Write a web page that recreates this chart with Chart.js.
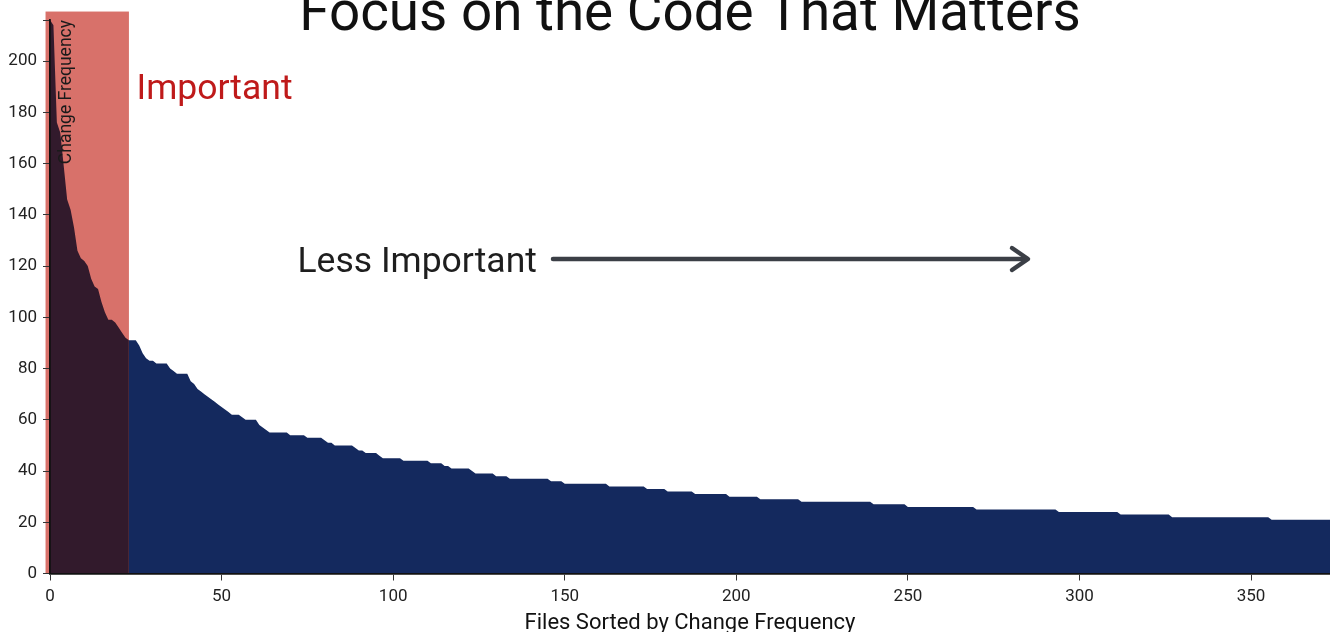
<!DOCTYPE html>
<html>
<head>
<meta charset="utf-8">
<script src="https://cdn.jsdelivr.net/npm/chart.js@4.4.0/dist/chart.umd.min.js"></script>
<style>
  html, body { margin: 0; padding: 0; background: #fff; overflow: hidden; }
  canvas { display: block; }
</style>
</head>
<body>
<canvas id="chart" width="1330" height="632"></canvas>
<script>
// Change count per file, files sorted from most to least frequently changed
const changeFrequency = [
  216, 214, 176, 172, 159, 146, 142, 135, 126, 123,
  122, 120, 115, 112, 111, 106, 102, 99, 99, 98,
  96, 94, 92, 91, 91, 91, 89, 86, 84, 83,
  83, 82, 82, 82, 82, 80, 79, 78, 78, 78,
  78, 75, 74, 72, 71, 70, 69, 68, 67, 66,
  65, 64, 63, 62, 62, 62, 61, 60, 60, 60,
  60, 58, 57, 56, 55, 55, 55, 55, 55, 55,
  54, 54, 54, 54, 54, 53, 53, 53, 53, 53,
  52, 51, 51, 50, 50, 50, 50, 50, 50, 49,
  48, 48, 47, 47, 47, 47, 46, 45, 45, 45,
  45, 45, 45, 44, 44, 44, 44, 44, 44, 44,
  44, 43, 43, 43, 43, 42, 42, 41, 41, 41,
  41, 41, 41, 40, 39, 39, 39, 39, 39, 39,
  38, 38, 38, 38, 37, 37, 37, 37, 37, 37,
  37, 37, 37, 37, 37, 37, 36, 36, 36, 36,
  35, 35, 35, 35, 35, 35, 35, 35, 35, 35,
  35, 35, 35, 34, 34, 34, 34, 34, 34, 34,
  34, 34, 34, 34, 33, 33, 33, 33, 33, 33,
  32, 32, 32, 32, 32, 32, 32, 32, 31, 31,
  31, 31, 31, 31, 31, 31, 31, 31, 30, 30,
  30, 30, 30, 30, 30, 30, 30, 29, 29, 29,
  29, 29, 29, 29, 29, 29, 29, 29, 29, 28,
  28, 28, 28, 28, 28, 28, 28, 28, 28, 28,
  28, 28, 28, 28, 28, 28, 28, 28, 28, 28,
  27, 27, 27, 27, 27, 27, 27, 27, 27, 27,
  26, 26, 26, 26, 26, 26, 26, 26, 26, 26,
  26, 26, 26, 26, 26, 26, 26, 26, 26, 26,
  25, 25, 25, 25, 25, 25, 25, 25, 25, 25,
  25, 25, 25, 25, 25, 25, 25, 25, 25, 25,
  25, 25, 25, 25, 24, 24, 24, 24, 24, 24,
  24, 24, 24, 24, 24, 24, 24, 24, 24, 24,
  24, 24, 23, 23, 23, 23, 23, 23, 23, 23,
  23, 23, 23, 23, 23, 23, 23, 22, 22, 22,
  22, 22, 22, 22, 22, 22, 22, 22, 22, 22,
  22, 22, 22, 22, 22, 22, 22, 22, 22, 22,
  22, 22, 22, 22, 22, 22, 21, 21, 21, 21,
  21, 21, 21, 21, 21, 21, 21, 21, 21, 21,
  21, 21, 21, 21
];

// The first files (index 0..23) are the hotspots worth focusing on
const importantLastFile = 23;

const xTickValues = [0, 50, 100, 150, 200, 250, 300, 350];
const yTickValues = [0, 20, 40, 60, 80, 100, 120, 140, 160, 180, 200];

const xMax = changeFrequency.length - 1;
const yMax = Math.max(...changeFrequency);

const COLORS = {
  highlight: '#d8716a',
  hotspotArea: '#321a2c',
  restArea: '#14295e',
  axis: '#111111',
  tickText: '#222222',
  importantText: '#bf1a1a',
  lessText: '#1e1e1e',
  arrow: '#3b3f46'
};

Chart.defaults.font.family = 'Roboto, "Noto Sans", sans-serif';

const points = changeFrequency.map((v, i) => ({ x: i, y: v }));
const hotspotPoints = points.slice(0, importantLastFile + 1);
const restPoints = points.slice(importantLastFile);

// Salmon band behind the hotspot files
const highlightBand = {
  id: 'highlightBand',
  beforeDatasetsDraw(chart) {
    const { ctx, scales: { x, y } } = chart;
    const left = x.getPixelForValue(-1.3);
    const right = x.getPixelForValue(importantLastFile);
    const top = y.getPixelForValue(yMax + 3.3);
    const bottom = y.getPixelForValue(0);
    ctx.save();
    ctx.fillStyle = COLORS.highlight;
    ctx.fillRect(left, top, right - left, bottom - top);
    ctx.restore();
  }
};

// Title, annotations and axis titles
const annotations = {
  id: 'annotations',
  afterDraw(chart) {
    const { ctx } = chart;
    ctx.save();

    ctx.fillStyle = '#111';
    ctx.font = '54.8px Roboto';
    ctx.textAlign = 'center';
    ctx.textBaseline = 'alphabetic';
    ctx.fillText('Focus on the Code That Matters', 690, 30);

    ctx.font = '22px Roboto';
    ctx.fillStyle = '#111';
    ctx.fillText('Files Sorted by Change Frequency', 690, 629);

    ctx.save();
    ctx.translate(66.5, 20);
    ctx.rotate(-Math.PI / 2);
    ctx.textAlign = 'right';
    ctx.textBaseline = 'middle';
    ctx.font = '17.5px Roboto';
    ctx.fillStyle = '#1a1a1a';
    ctx.fillText('Change Frequency', 0, 0);
    ctx.restore();

    ctx.textAlign = 'left';
    ctx.font = '35.5px Roboto';
    ctx.fillStyle = COLORS.importantText;
    ctx.fillText('Important', 136.5, 99);

    ctx.fillStyle = COLORS.lessText;
    ctx.fillText('Less Important', 297.5, 272);

    ctx.strokeStyle = COLORS.arrow;
    ctx.lineWidth = 4.5;
    ctx.lineCap = 'round';
    ctx.lineJoin = 'round';
    ctx.beginPath();
    ctx.moveTo(553, 259);
    ctx.lineTo(1027, 259);
    ctx.stroke();
    ctx.beginPath();
    ctx.moveTo(1012, 248);
    ctx.lineTo(1028, 259);
    ctx.lineTo(1012, 270);
    ctx.stroke();

    ctx.restore();
  }
};

const axisCommon = {
  grid: { display: true, drawOnChartArea: false, drawTicks: true, tickLength: 7, color: '#333', lineWidth: 1, z: 1 },
  border: { display: true, color: COLORS.axis, width: 1.8, z: 1 }
};

new Chart(document.getElementById('chart'), {
  type: 'line',
  data: {
    datasets: [
      {
        data: hotspotPoints,
        backgroundColor: COLORS.hotspotArea,
        borderWidth: 0,
        pointRadius: 0,
        fill: 'origin',
        tension: 0
      },
      {
        data: restPoints,
        backgroundColor: COLORS.restArea,
        borderWidth: 0,
        pointRadius: 0,
        fill: 'origin',
        tension: 0
      }
    ]
  },
  options: {
    responsive: false,
    animation: false,
    events: [],
    layout: { autoPadding: false, padding: { top: 20, right: -1.3, left: 0, bottom: 0 } },
    plugins: { legend: { display: false }, tooltip: { enabled: false }, title: { display: false } },
    scales: {
      x: {
        type: 'linear',
        min: 0,
        max: xMax,
        ...axisCommon,
        afterFit(scale) {
          scale.height = 58.5;
          scale.paddingLeft = 0;
          scale.paddingRight = 0;
        },
        afterBuildTicks(scale) {
          scale.ticks = xTickValues.map(v => ({ value: v })).concat([{ value: xMax }]);
        },
        ticks: {
          autoSkip: false,
          maxRotation: 0,
          padding: 6,
          color: COLORS.tickText,
          font: { size: 17 },
          z: 1,
          callback: (v) => (xTickValues.includes(v) ? String(v) : '')
        }
      },
      y: {
        type: 'linear',
        min: 0,
        max: yMax,
        ...axisCommon,
        afterFit(scale) {
          scale.width = 50;
          scale.paddingTop = 0;
          scale.paddingBottom = 0;
        },
        afterBuildTicks(scale) {
          scale.ticks = yTickValues.map(v => ({ value: v })).concat([{ value: yMax }]);
        },
        ticks: {
          autoSkip: false,
          padding: 6,
          color: COLORS.tickText,
          font: { size: 17 },
          z: 1,
          callback: (v) => (yTickValues.includes(v) ? String(v) : '')
        }
      }
    }
  },
  plugins: [highlightBand, annotations]
});
</script>
</body>
</html>
